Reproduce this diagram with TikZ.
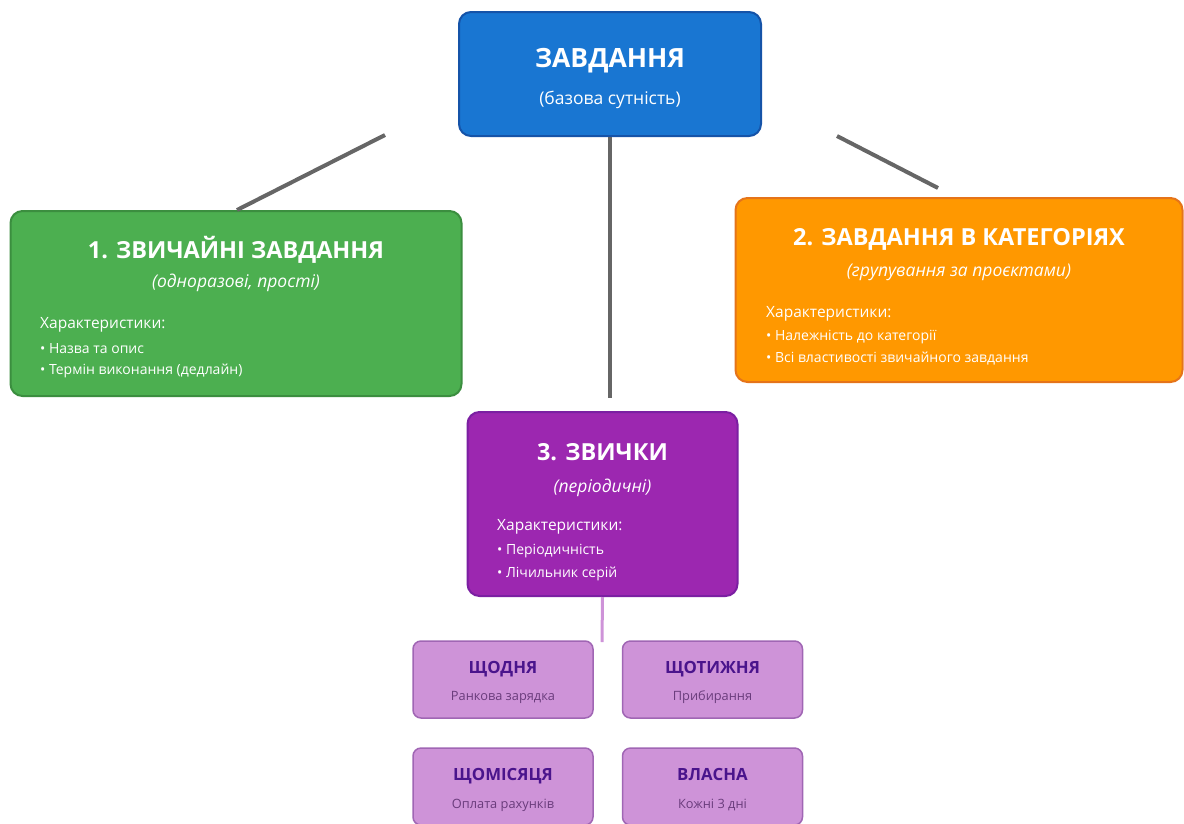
\documentclass[tikz,border=0pt]{standalone}
\usepackage{fontspec}
\setmainfont{Open Sans}
\usetikzlibrary{positioning}
\definecolor{taskblue}{HTML}{1976D2}
\definecolor{taskedge}{HTML}{1553A8}
\definecolor{simplegreen}{HTML}{4CAF50}
\definecolor{simpleedge}{HTML}{3B8E3F}
\definecolor{catorange}{HTML}{FF9800}
\definecolor{catedge}{HTML}{E5741A}
\definecolor{habitpurple}{HTML}{9C27B0}
\definecolor{habitedge}{HTML}{7B1FA2}
\definecolor{habitlight}{HTML}{CE93D8}
\definecolor{habitlightedge}{HTML}{A066B4}
\definecolor{habitdark}{HTML}{4A148C}
\definecolor{habitsub}{HTML}{6A3C7C}
\definecolor{linkgray}{HTML}{666666}
\begin{document}
\begin{tikzpicture}[x=1pt,y=-1pt,
    bigbox/.style={draw, line width=2pt, rounded corners=12pt, inner sep=0pt},
    smallbox/.style={draw=habitlightedge, fill=habitlight, line width=1.5pt, rounded corners=8pt,
        minimum width=180pt, minimum height=77pt, inner sep=0pt},
    boxtitle/.style={anchor=base, text=white, inner sep=0pt, font=\bfseries\fontsize{23.5}{28}\selectfont},
    boxsub/.style={anchor=base, text=white, inner sep=0pt, font=\itshape\fontsize{17.5}{21}\selectfont},
    featurehead/.style={anchor=base west, text=white, inner sep=0pt, font=\fontsize{15.5}{19}\selectfont},
    bulletline/.style={anchor=base west, text=white, inner sep=0pt, font=\fontsize{14}{17}\selectfont},
    smalltitle/.style={anchor=base, text=habitdark, inner sep=0pt, font=\bfseries\fontsize{16.8}{20}\selectfont},
    smalltext/.style={anchor=base, text=habitsub, inner sep=0pt, font=\fontsize{12.8}{15}\selectfont},
    graylink/.style={draw=linkgray, line width=4pt},
    purplelink/.style={draw=habitlight, line width=3pt}]
    \useasboundingbox (0,0) rectangle (1184,823);
    \clip (0,0) rectangle (1184,823);

    % base entity
    \node[bigbox, draw=taskedge, fill=taskblue, minimum width=302pt, minimum height=124pt] (task) at (610,74) {};
    \node[boxtitle, font=\bfseries\fontsize{26.5}{31}\selectfont] (tasktitle) at (610,67) {ЗАВДАННЯ};
    \node[boxsub, font=\fontsize{17.5}{21}\selectfont] (tasksub) at (610,104) {(базова сутність)};

    % 1. simple tasks
    \node[bigbox, draw=simpleedge, fill=simplegreen, minimum width=451pt, minimum height=185pt] (simple) at (236,303.5) {};
    \node[boxtitle] (simpletitle) at (236,258) {1. ЗВИЧАЙНІ ЗАВДАННЯ};
    \node[boxsub] (simplesub) at (236,287) {(одноразові, прості)};
    \node[featurehead] (simplehead) at (40,328) {Характеристики:};
    \node[bulletline] (simpleone) at (40,353) {• Назва та опис};
    \node[bulletline] (simpletwo) at (40,374) {• Термін виконання (дедлайн)};

    % 2. tasks in categories
    \node[bigbox, draw=catedge, fill=catorange, minimum width=447pt, minimum height=184pt] (cat) at (959,290) {};
    \node[boxtitle] (cattitle) at (959,245) {2. ЗАВДАННЯ В КАТЕГОРІЯХ};
    \node[boxsub] (catsub) at (959,276) {(групування за проєктами)};
    \node[featurehead] (cathead) at (766,317) {Характеристики:};
    \node[bulletline] (catone) at (766,340) {• Належність до категорії};
    \node[bulletline] (cattwo) at (766,362) {• Всі властивості звичайного завдання};

    % 3. habits
    \node[bigbox, draw=habitedge, fill=habitpurple, minimum width=270pt, minimum height=184pt] (habits) at (602.5,504) {};
    \node[boxtitle] (habitstitle) at (602.5,460) {3. ЗВИЧКИ};
    \node[boxsub] (habitssub) at (602.5,492) {(періодичні)};
    \node[featurehead] (habitshead) at (497,530) {Характеристики:};
    \node[bulletline] (habitsone) at (497,554) {• Періодичність};
    \node[bulletline] (habitstwo) at (497,577) {• Лічильник серій};

    % periods
    \node[smallbox] (daily) at (503,679.5) {};
    \node[smalltitle] at (503,673) {ЩОДНЯ};
    \node[smalltext] at (503,700) {Ранкова зарядка};
    \node[smallbox] (weekly) at (712.5,679.5) {};
    \node[smalltitle] at (712.5,673) {ЩОТИЖНЯ};
    \node[smalltext] at (712.5,700) {Прибирання};
    \node[smallbox] (monthly) at (503,786.5) {};
    \node[smalltitle] at (503,780) {ЩОМІСЯЦЯ};
    \node[smalltext] at (503,808) {Оплата рахунків};
    \node[smallbox] (custom) at (712.5,786.5) {};
    \node[smalltitle] at (712.5,780) {ВЛАСНА};
    \node[smalltext] at (712.5,808) {Кожні 3 дні};

    % links
    \coordinate (leftfrom) at (385,135);
    \coordinate (leftto) at (237,210);
    \coordinate (rightfrom) at (837,136);
    \coordinate (rightto) at (938,188);
    \coordinate (midto) at (610,398);
    \coordinate (rowtop) at (602,642);
    \draw[graylink] (leftfrom) -- (leftto);
    \draw[graylink] (rightfrom) -- (rightto);
    \draw[graylink] (task.south -| midto) -- (midto);
    \draw[purplelink] (habits.south) -- (rowtop);
\end{tikzpicture}
\end{document}
